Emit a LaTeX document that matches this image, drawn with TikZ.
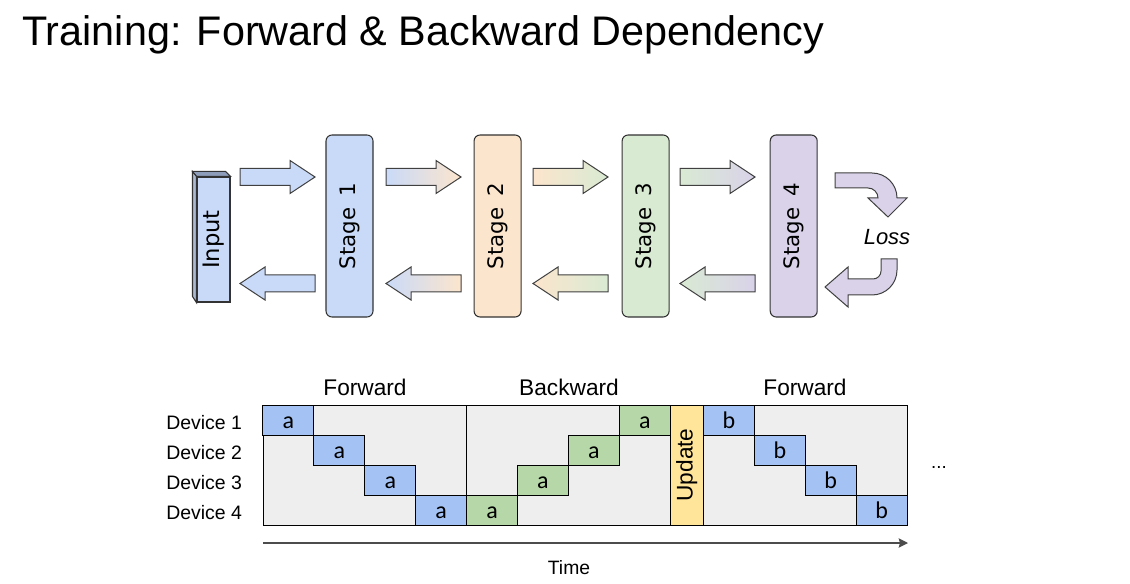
\documentclass[tikz,border=0pt]{standalone}
\usepackage{fontspec}
\setmainfont{Liberation Sans}
\newfontfamily\stagefont{DejaVu Sans}
\newfontfamily\cellfont{Carlito}
\usepackage{graphicx}
\usepackage{tikz}
\usetikzlibrary{arrows,arrows.meta}
\usetikzlibrary{positioning}
\definecolor{stblue}{HTML}{C9DAF8}
\definecolor{storange}{HTML}{FCE5CD}
\definecolor{stgreen}{HTML}{D9EAD3}
\definecolor{stpurple}{HTML}{D9D2E9}
\definecolor{inputtop}{HTML}{8E9DBA}
\definecolor{cellblue}{HTML}{A4C2F4}
\definecolor{cellgreen}{HTML}{B6D7A8}
\definecolor{cellyellow}{HTML}{FFE599}
\definecolor{gridgray}{HTML}{EEEEEE}
\tikzstyle{stagebox} = [draw=black!80, line width=0.8pt, rounded corners=4.5pt, minimum width=35.25pt, minimum height=136.5pt, inner sep=0pt, font=\stagefont\fontsize{16}{19}\selectfont]
\tikzstyle{blockarrow} = [draw=black!75, line width=0.75pt]
\tikzstyle{cell} = [draw=black, line width=0.75pt, minimum width=38.2pt, minimum height=22.5pt, inner sep=0pt, text height=12.8pt, text depth=0pt, font=\cellfont\fontsize{18}{21}\selectfont]
\tikzstyle{txt} = [inner sep=0pt]
\tikzstyle{timearrow} = [line width=1.2pt, draw=black!70, -{Stealth[length=7pt,width=7pt,inset=1pt]}]

\begin{document}
\begin{tikzpicture}[x=0.75pt, y=-0.75pt]
\useasboundingbox (0,0) rectangle (1130,584);
\node[txt, anchor=base west, font=\fontsize{31}{36}\selectfont] (title) at (22,46) {Training: Forward \& Backward Dependency};

% input box
\node[draw=black!80, line width=0.8pt, fill=stblue, minimum width=24.75pt, minimum height=93.75pt, inner sep=0pt, font=\stagefont\fontsize{17}{20}\selectfont] (in) at (213.5,239.5) {\rotatebox{90}{Input}};
\filldraw[draw=black!80, line width=0.8pt, fill=inputtop] (in.north west) -- ++(-4,-5) -- ++(33,0) -- (in.north east) -- cycle;
\filldraw[draw=black!80, line width=0.8pt, fill=stblue!85!black] (in.north west) -- ++(-4,-5) -- ++(0,125) -- (in.south west) -- cycle;

% stages
\node[stagebox, fill=stblue] (s1) at (349.5,226) {\rotatebox{90}{Stage\hspace{0.53em}1}};
\node[stagebox, fill=storange, right=75pt of s1] (s2) {\rotatebox{90}{Stage\hspace{0.53em}2}};
\node[stagebox, fill=stgreen, right=75pt of s2] (s3) {\rotatebox{90}{Stage\hspace{0.53em}3}};
\node[stagebox, fill=stpurple, right=75pt of s3] (s4) {\rotatebox{90}{Stage\hspace{0.53em}4}};

% forward and backward block arrows
\foreach \xa/\ca/\cb in {240/stblue/stblue, 386/stblue/storange, 533/storange/stgreen, 680/stgreen/stpurple} {
  \shadedraw[blockarrow, left color=\ca, right color=\cb] (\xa,168.5) -- ++(50,0) -- ++(0,-8) -- ++(25,16.5) -- ++(-25,16.5) -- ++(0,-8) -- ++(-50,0) -- cycle;
  \shadedraw[blockarrow, left color=\ca, right color=\cb] (\xa+75,275) -- ++(-50,0) -- ++(0,-8) -- ++(-25,16.5) -- ++(25,16.5) -- ++(0,-8) -- ++(50,0) -- cycle;
}

% loss
\node[txt, font=\itshape\fontsize{16.5}{19}\selectfont] (loss) at (887,237) {Loss};
\filldraw[blockarrow, fill=stpurple] (835,173) -- (872,173) arc[start angle=-90, end angle=0, radius=25] -- (907,198) -- (888,217) -- (868,198) -- (878,198) arc[start angle=0, end angle=-90, radius=10] -- (835,188) -- cycle;
\filldraw[blockarrow, fill=stpurple] (881,259) -- (897,259) -- (897,270) arc[start angle=0, end angle=90, radius=25] -- (848,295) -- (848,307) -- (825,287) -- (848,267) -- (848,279) -- (873,279) arc[start angle=90, end angle=0, radius=8] -- cycle;

% timeline
\node[txt, anchor=base, font=\fontsize{17}{20}\selectfont] (hf1) at (365,395) {Forward};
\node[txt, anchor=base, font=\fontsize{17}{20}\selectfont] (hb) at (569,395) {Backward};
\node[txt, anchor=base, font=\fontsize{17}{20}\selectfont] (hf2) at (805,395) {Forward};
\foreach \r in {1,...,4}
  \node[txt, anchor=base west, font=\fontsize{14.6}{17}\selectfont] (d\r) at (166,399+\r*30) {Device \r};

\draw[line width=0.75pt, fill=gridgray] (263,405) rectangle (907,525);
\foreach \i in {0,...,3} {
  \node[cell, fill=cellblue] (fa\i) at (288.45+\i*50.9, 420+\i*30) {a};
  \node[cell, fill=cellgreen] (ba\i) at (492.05+\i*50.9, 510-\i*30) {a};
  \node[cell, fill=cellblue] (fb\i) at (728.95+\i*50.9, 420+\i*30) {b};
}
\draw[line width=0.75pt] (466.6,405) -- (466.6,525);
\node[draw=black, line width=0.75pt, fill=cellyellow, minimum width=24.98pt, minimum height=90pt, inner sep=0pt, font=\fontsize{17}{20}\selectfont] (upd) at (686.85,465) {\rotatebox{90}{Update}};
\node[txt, anchor=base, font=\fontsize{14}{17}\selectfont] (dots) at (939,468) {...};

\coordinate (t0) at (263,543);
\coordinate (t1) at (908,543);
\draw[timearrow] (t0) -- (t1);
\node[txt, anchor=base, font=\fontsize{14.5}{17}\selectfont] (time) at (569,574) {Time};
\end{tikzpicture}
\end{document}
